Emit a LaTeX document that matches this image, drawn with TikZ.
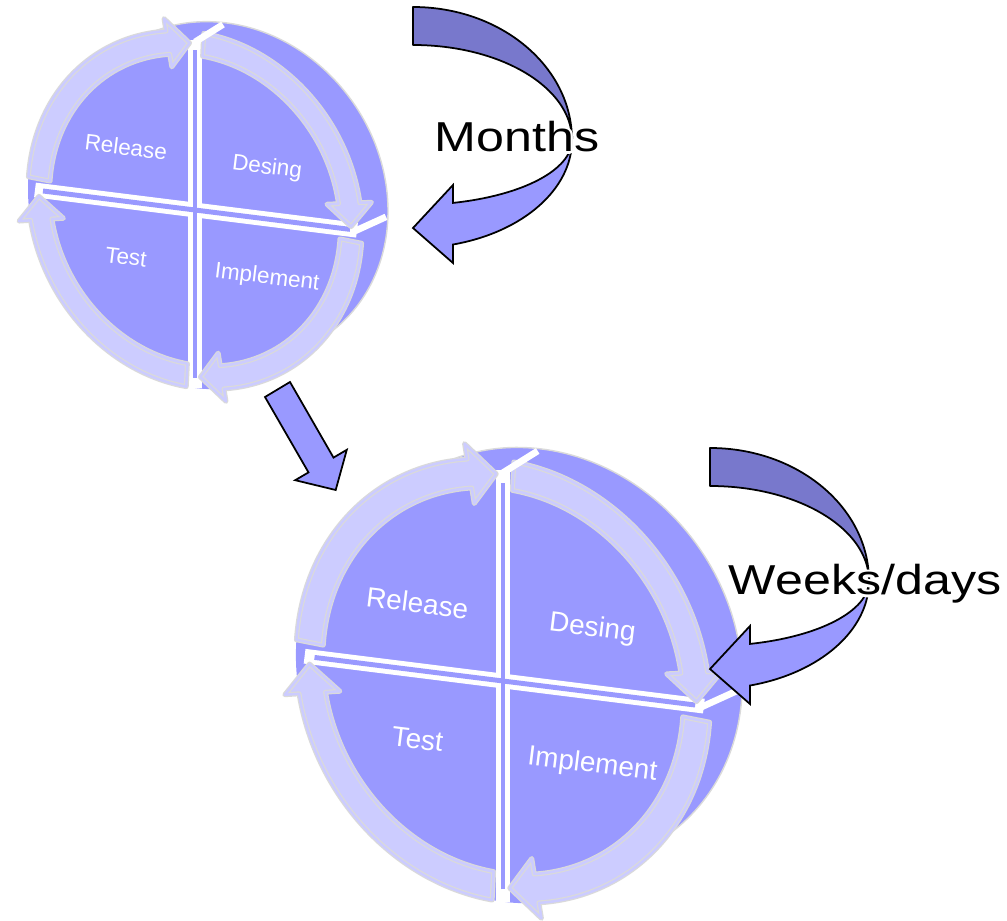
\documentclass[tikz,border=0pt]{standalone}
\usepackage{fontspec}
\setmainfont{Liberation Sans}
\definecolor{lav}{RGB}{153,153,255}
\definecolor{lavlight}{RGB}{204,204,255}
\definecolor{lavdark}{RGB}{120,120,204}
\definecolor{rimline}{RGB}{218,218,218}

\tikzset{
  face/.style={fill=lav},
  ringarrow/.style={fill=lavlight, draw=rimline, line width=0.35pt,
    double=lavlight, double distance=0.7pt, line join=round},
  gapline/.style={draw=white, line width=4.2pt},
  gapcore/.style={draw=lav, line width=1.4pt},
  gapedge/.style={draw=white, line width=1.9pt, line cap=butt},
  quadlabel/.style={transform shape, text=white, rotate=-7, inner sep=0pt,
    font=\fontsize{6.4pt}{7.5pt}\selectfont},
  blockarrow/.style={fill=lav, draw=black, line width=0.5pt, line join=miter},
  blockarrowback/.style={fill=lavdark, draw=black, line width=0.5pt, line join=round},
  caption/.style={anchor=base, inner sep=0pt, xscale=1.2,
    font=\fontsize{11.9pt}{13pt}\selectfont},
}

% one ring segment running clockwise from tail angle #1 to tip angle #2
\newcommand\ringseg[2]{%
  \pgfmathsetmacro\segbase{#2+8}%
  \draw[ringarrow] (#1:1) arc[start angle=#1, end angle=\segbase, radius=1]
    -- (\segbase:1.07) -- (#2:0.935) -- (\segbase:0.80) -- (\segbase:0.87)
    arc[start angle=\segbase, end angle=#1, radius=0.87] -- cycle;}

\tikzset{
  % tilted four-part wheel with its extruded back
  cyclewheel/.pic={
    \begin{scope}[yslant=-0.125]
      \filldraw[face, draw=rimline, line width=0.4pt]
        (0.31,0.23) ellipse [x radius=1.62, y radius=1.68];
      \fill[face] (0,0) ellipse [x radius=1.67, y radius=1.78];
      % gaps between the four quarters
      \draw[gapline] (-1.60,0) -- (1.62,0);
      \draw[gapline] (0,-1.78) -- (0,1.70);
      \draw[gapcore] (-1.52,0) -- (1.55,0);
      \draw[gapcore] (0,-1.68) -- (0,1.60);
      \begin{scope}[xscale=1.67, yscale=1.78]
        \ringseg{176}{92}
        \ringseg{87}{1}
        \ringseg{-4}{-88}
        \ringseg{-93}{-178}
      \end{scope}
      % the gaps seen running back along the top and the side
      \draw[gapedge] (0,1.68) -- (0.28,1.89);
      \draw[gapedge] (1.60,-0.01) -- (1.91,0.17);
    \end{scope}
    \node[quadlabel] (-release) at (-0.69,0.63) {Release};
    \node[quadlabel] (-desing) at (0.72,0.42) {Desing};
    \node[quadlabel] (-test) at (-0.69,-0.47) {Test};
    \node[quadlabel] (-implement) at (0.72,-0.68) {Implement};
  },
  % curved arrow turning back to the left
  turnarrow/.pic={
    \filldraw[blockarrow] (1.59,0)
      arc[start angle=0, end angle=-75.43, x radius=1.59, y radius=1.08]
      -- (0.40,-1.23) -- (0,-0.88) -- (0.40,-0.45) -- (0.40,-0.629)
      arc[start angle=-75.43, end angle=0, x radius=1.59, y radius=0.65] -- cycle;
    \filldraw[blockarrowback] (0,1.33)
      arc[start angle=90, end angle=0, x radius=1.59, y radius=1.33]
      arc[start angle=0, end angle=90, x radius=1.59, y radius=0.95] -- cycle;
  },
}

\begin{document}
\begin{tikzpicture}
\useasboundingbox (0,0) rectangle (10.07,-9.21);

% first loop
\pic (top) at (1.95,-2.10) {cyclewheel};
\pic (slow) at (4.13,-1.40) {turnarrow};
\foreach \dx/\dy [count=\i] in {1/0,-1/0,0/1,0/-1,.7/.7,-.7/.7,.7/-.7,-.7/-.7}
  \node[caption, text=white] (mhalo\i) at ([shift={(\dx*0.7pt,\dy*0.7pt)}]5.17,-1.52) {Months};
\node[caption] (months) at (5.17,-1.52) {Months};

% step from the first loop to the second
\filldraw[blockarrow] (2.65,-3.97) -- (2.90,-3.82) -- (3.335,-4.576) -- (3.468,-4.498)
  -- (3.357,-4.90) -- (2.952,-4.802) -- (3.085,-4.724) -- cycle;

% second loop
\pic[scale=1.24] (bottom) at (5.03,-6.81) {cyclewheel};
\pic (fast) at (7.10,-5.81) {turnarrow};
\foreach \dx/\dy [count=\i] in {1/0,-1/0,0/1,0/-1,.7/.7,-.7/.7,.7/-.7,-.7/-.7}
  \node[caption, text=white] (whalo\i) at ([shift={(\dx*0.7pt,\dy*0.7pt)}]8.65,-5.95) {Weeks/days};
\node[caption] (weeks) at (8.65,-5.95) {Weeks/days};
\end{tikzpicture}
\end{document}
